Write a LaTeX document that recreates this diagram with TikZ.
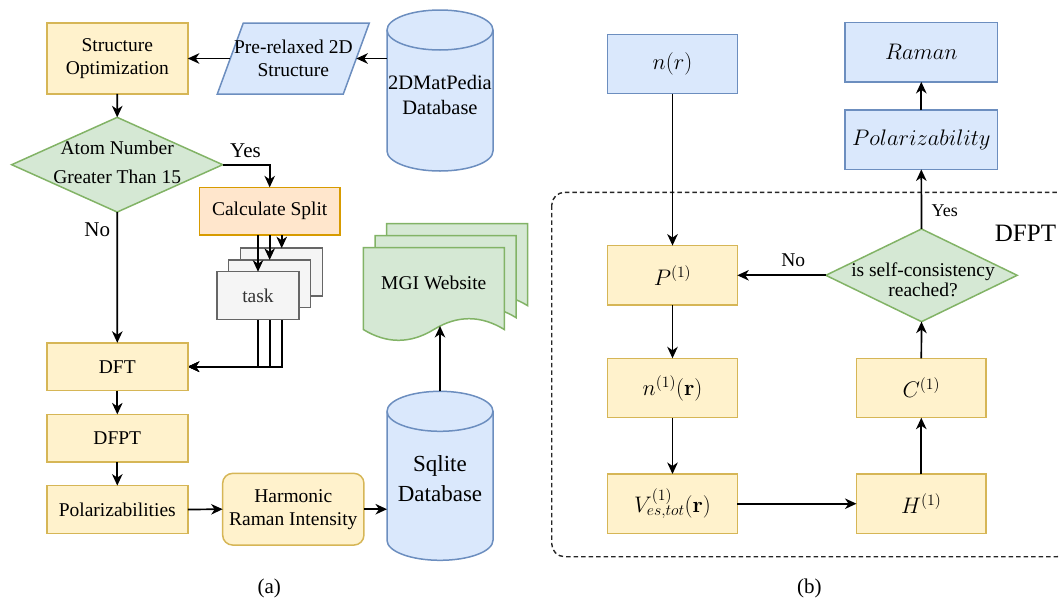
\RequirePackage{fix-cm}
\documentclass[tikz,border=0pt]{standalone}
\usepackage[no-math]{fontspec}
\setmainfont{Liberation Serif}
\usetikzlibrary{arrows.meta,shapes.geometric,calc}
\pgfdeclarelayer{bg}
\pgfsetlayers{bg,main}
\definecolor{yfill}{HTML}{FFF2CC}\definecolor{ydraw}{HTML}{D6B656}
\definecolor{bfill}{HTML}{DAE8FC}\definecolor{bdraw}{HTML}{6C8EBF}
\definecolor{gfill}{HTML}{D5E8D4}\definecolor{gdraw}{HTML}{82B366}
\definecolor{ofill}{HTML}{FFE6CC}\definecolor{odraw}{HTML}{D79B00}
\definecolor{tfill}{HTML}{F5F5F5}\definecolor{tdraw}{HTML}{666666}\definecolor{ttext}{HTML}{333333}
\newcommand\fsz[2]{\fontsize{#1}{#2}\selectfont}
\newcommand\cylpath[4]{%
  \path[#4] ($(#1.north west)+(0,#3)$) -- ($(#1.south west)+(0,-#3)$)
    arc[start angle=180,end angle=0,x radius=#2,y radius=#3]
    -- ($(#1.north east)+(0,#3)$)
    arc[start angle=0,end angle=-180,x radius=#2,y radius=#3] -- cycle;
  \path[#4,fill=none] ($(#1.north west)+(0,#3)$)
    arc[start angle=180,end angle=0,x radius=#2,y radius=#3];}
\newcommand\docpath[2]{%
  \begin{scope}[shift={(#1,#2)}]
  \path[docsty] (0,0) -- (141,0) -- (141,82)
    .. controls (117.5,67.6) and (94,67.6) .. (70.5,82)
    .. controls (47,96.4) and (23.5,96.4) .. (0,82) -- cycle;
  \end{scope}}
\tikzset{
  base/.style={inner sep=0pt, outer sep=0pt, align=center, font=\fsz{19.5}{23}},
  ybox/.style={base, draw=ydraw, fill=yfill, line width=1.5pt},
  bbox/.style={base, draw=bdraw, fill=bfill, line width=1.5pt},
  obox/.style={base, draw=odraw, fill=ofill, line width=1.5pt},
  tbox/.style={base, draw=tdraw, fill=tfill, text=ttext, line width=1.5pt,
    minimum width=82pt, minimum height=47.6pt},
  gdia/.style={base, diamond, draw=gdraw, fill=gfill, line width=1.5pt},
  lbox/.style={minimum width=141pt, minimum height=47.8pt},
  rbox/.style={minimum width=129.6pt, minimum height=59.4pt, font=\fsz{22.5}{27}},
  bluecyl/.style={draw=bdraw, fill=bfill, line width=1.5pt},
  docsty/.style={draw=gdraw, fill=gfill, line width=1.5pt},
  arr/.style={-{Stealth[length=11.5pt,width=10.5pt,inset=3.5pt]}, line width=1.7pt},
  lbl/.style={inner sep=0pt, outer sep=0pt, font=\fsz{21}{25}},
  frame/.style={draw=black!85, line width=1.4pt, dash pattern=on 4.5pt off 3pt, rounded corners=13pt},
}
\begin{document}
\begin{tikzpicture}[x=1pt,y=-1pt]
\useasboundingbox (0,0) rectangle (1059,600);
% ---------- panel (a) ----------
\node[ybox, minimum width=141pt, minimum height=71pt] (so) at (117.3,58.4) {Structure\\Optimization};
\node[base, minimum width=126pt, minimum height=71pt] (pre) at (293.3,58.5) {Pre-relaxed 2D\\Structure};
\node[base, minimum width=106pt, minimum height=161pt] (db) at (440,90.5) {};
\node[base, font=\fsz{20.5}{24.7}] (dbt) at (440,95.2) {2DMatPedia\\Database};
\node[gdia, minimum width=211pt, minimum height=94.7pt] (d1) at (117.2,164.7) {};
\node[base, font=\fsz{19.5}{29.6}] (d1t) at (117.2,162.5) {Atom Number\\Greater Than 15};
\node[obox, minimum width=140.7pt, minimum height=47.7pt] (calc) at (269.7,211.2) {Calculate Split};
\node[tbox] (tkb) at (281.7,272) {};
\node[tbox] (tkm) at (269.7,283.7) {};
\node[tbox] (tkf) at (258,295.5) {task};
\node[ybox, lbox] (dft) at (117.3,366.7) {DFT};
\node[ybox, lbox] (dfpt) at (117.3,438.3) {DFPT};
\node[ybox, lbox] (pol) at (117.3,509.5) {Polarizabilities};
\node[ybox, rounded corners=10pt, minimum width=141.3pt, minimum height=71.7pt] (har) at (293.3,509.2) {Harmonic\\Raman Intensity};
\node[base, minimum width=106pt, minimum height=169pt] (sq) at (440,475.8) {};
\node[base, font=\fsz{23}{29.4}] (sqt) at (440,478.7) {Sqlite\\Database};
\node[base] (mgi) at (433.8,283.3) {MGI Website};
\coordinate (mgiin) at (440,326);
\node[lbl] (yesa) at (245.5,150.7) {Yes};
\node[lbl] (noa) at (97.3,230) {No};
\node[lbl] (capa) at (269.3,588.3) {(a)};
\begin{pgfonlayer}{bg}
  \path[bluecyl] ($(pre.north west)+(13,0)$) -- ($(pre.north east)+(13,0)$)
    -- ($(pre.south east)+(-13,0)$) -- ($(pre.south west)+(-13,0)$) -- cycle;
  \cylpath{db}{53}{20}{bluecyl}
  \cylpath{sq}{53}{20}{bluecyl}
  \docpath{386.7}{223.7}
  \docpath{375}{235.6}
  \docpath{363.3}{247.5}
  \draw[arr] (tkb.south) |- (dft.east);
  \draw[arr] (tkm.south) |- (dft.east);
  \draw[arr] (tkf.south) |- (dft.east);
\end{pgfonlayer}
\draw[arr] (db.west |- pre) -- (pre.east);
\draw[arr] (pre.west) -- (pre.west -| so.east);
\draw[arr] (so.south) -- (d1.north);
\draw[arr] (d1.east) -| (calc.north);
\draw[arr] (d1.south) -- (dft.north);
\draw[arr] (calc.south -| tkb.north) -- (tkb.north);
\draw[arr] (calc.south -| tkm.north) -- (tkm.north);
\draw[arr] (calc.south -| tkf.north) -- (tkf.north);
\draw[arr] (dft.south) -- (dfpt.north);
\draw[arr] (dfpt.south) -- (pol.north);
\draw[arr] (pol.east) -- (har.west);
\draw[arr] (har.east) -- (har.east -| sq.west);
\draw[arr] (sq.north) -- (mgiin);
% ---------- panel (b) ----------
\node[bbox, rbox] (nr) at (672.5,64) {$n(r)$};
\node[bbox, rbox, minimum width=152.7pt] (ram) at (921.3,52.2) {$Raman$};
\node[bbox, rbox, minimum width=152.7pt] (pz) at (921.3,139.7) {$Polarizability$};
\node[ybox, rbox] (p1) at (672.5,275.3) {$P^{(1)}$};
\node[ybox, rbox] (n1) at (672.5,388) {$n^{(1)}(\mathbf{r})$};
\node[ybox, rbox] (v1) at (672.5,503.7) {$V^{(1)}_{es,tot}(\mathbf{r})$};
\node[ybox, rbox] (h1) at (921.3,503.7) {$H^{(1)}$};
\node[ybox, rbox] (c1) at (921.3,388) {$C^{(1)}$};
\node[gdia, minimum width=191.3pt, minimum height=92.7pt] (d2) at (921.5,275.3) {};
\node[base, font=\fsz{19.5}{20}] (d2t) at (923,279.3) {is self-consistency\\reached?};
\node[lbl, font=\fsz{18}{22}] (yesb) at (944.7,210.7) {Yes};
\node[lbl, font=\fsz{19.5}{23}] (nob) at (793.3,260) {No};
\node[lbl, font=\fsz{25}{30}] (dfptl) at (1025.5,233.3) {DFPT};
\node[lbl] (capb) at (809.3,588.3) {(b)};
\begin{pgfonlayer}{bg}
  \path[frame] (551.7,192.3) rectangle (1070,556.7);
\end{pgfonlayer}
\draw[arr] (nr.south) -- (p1.north);
\draw[arr] (d2.west) -- (p1.east);
\draw[arr] (p1.south) -- (n1.north);
\draw[arr] (n1.south) -- (v1.north);
\draw[arr] (v1.east) -- (h1.west);
\draw[arr] (h1.north) -- (c1.south);
\draw[arr] (c1.north) -- (d2.south);
\draw[arr] (d2.north) -- (pz.south);
\draw[arr] (pz.north) -- (ram.south);
\end{tikzpicture}
\end{document}
